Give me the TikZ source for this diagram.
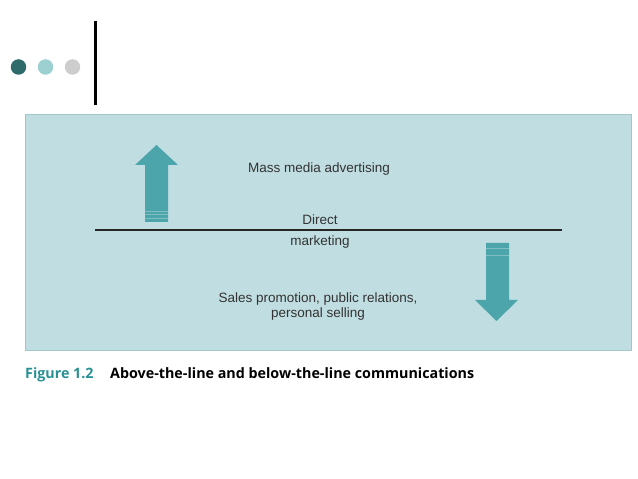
\documentclass[tikz,border=0pt]{standalone}
\usepackage{fontspec}
\setmainfont{Liberation Sans}
\newfontfamily\capfont{Open Sans}
\definecolor{panel}{HTML}{C0DDE1}
\definecolor{panelrim}{HTML}{A3C6CA}
\definecolor{arrowfill}{HTML}{4BA5AA}
\definecolor{stripe}{HTML}{7FBFC2}
\definecolor{dotdark}{HTML}{2F6B6A}
\definecolor{dotlight}{HTML}{9CD0D1}
\definecolor{dotgrey}{HTML}{CDCDCD}
\definecolor{ink}{HTML}{333333}
\definecolor{figteal}{HTML}{2A9094}
\usetikzlibrary{positioning}
\tikzset{
  lbl/.style={font=\fontsize{13.5}{15}\selectfont,text=ink,align=center,inner sep=0pt},
  dot/.style={circle,minimum size=15.5pt,inner sep=0pt},
  bigarrow/.style={fill=arrowfill,draw=none},
  stripeline/.style={draw=stripe,line width=0.9pt},
  captxt/.style={font=\capfont\bfseries\fontsize{14.3}{17}\selectfont,inner sep=0pt,anchor=base west},
}
\begin{document}
\begin{tikzpicture}[x=1pt,y=1pt]
\useasboundingbox (0,0) rectangle (638,479);
% header dots and bar
\node[dot,fill=dotdark] (d1) at (18.5,412) {};
\node[dot,fill=dotlight] (d2) at (45.5,412) {};
\node[dot,fill=dotgrey] (d3) at (72.5,412) {};
\draw[line width=3pt,black] (95,458) -- (95,374);
% panel
\fill[panel] (25,128) rectangle (632,365);
\draw[panelrim,line width=1pt] (25.5,128.5) rectangle (631.5,364.5);
% up arrow
\fill[bigarrow] (145,257) -- (145,314) -- (135,314) -- (156.5,334) -- (178,314) -- (168,314) -- (168,257) -- cycle;
\foreach \y in {261,264.5,268} \draw[stripeline] (145,\y) -- (168,\y);
% down arrow
\fill[bigarrow] (486,236) -- (486,179) -- (475,179) -- (496.5,158) -- (518,179) -- (509,179) -- (509,236) -- cycle;
\foreach \y in {231,224} \draw[stripeline] (486,\y) -- (509,\y);
% the line
\coordinate (lineL) at (95,249);
\coordinate (lineR) at (562,249);
\draw[line width=1.8pt,black!85] (lineL) -- (lineR);
% labels
\node[lbl] (mass) at (319,309.5) {Mass media advertising};
\node[lbl] (direct) at (320,259) {Direct};
\node[lbl] (mkt) at (320,236.5) {marketing};
\node[lbl] (below) at (318,172) {Sales promotion, public relations,\\personal selling};
% caption
\node[captxt,text=figteal] (fig) at (25,100) {Figure 1.2};
\node[captxt,text=black] (title) at (110,100) {Above-the-line and below-the-line communications};
\end{tikzpicture}
\end{document}
